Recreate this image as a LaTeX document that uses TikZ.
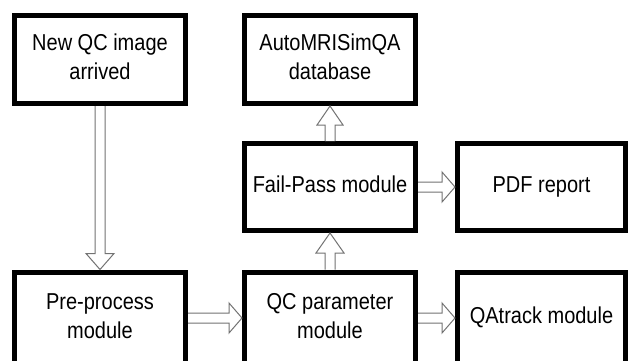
\documentclass[tikz,border=0pt]{standalone}
\usepackage{fontspec}
\usepackage{graphicx}
\setmainfont{Liberation Sans}
\usetikzlibrary{calc}
\newcommand\boxtext[1]{\scalebox{1}[1.15]{\begin{tabular}{@{}c@{}}#1\end{tabular}}}
\tikzset{
  sw/.store in=\bsw, hw/.store in=\bhw, hl/.store in=\bhl,
  sw=5pt, hw=14pt, hl=16pt,
  box/.style={draw=black, line width=5pt, fill=white, minimum width=171pt,
    minimum height=88pt, inner sep=0pt, align=center,
    font=\fontsize{20}{25}\selectfont, text=black},
  barrow/.style={draw=black!55, line width=1pt, fill=white, line join=miter,
    to path={
      ($(\tikztostart)!\bsw!90:(\tikztotarget)$)
      -- ($(\tikztotarget)!\bhl!(\tikztostart)!\bsw!90:(\tikztotarget)$)
      -- ($(\tikztotarget)!\bhl!(\tikztostart)!\bhw!90:(\tikztotarget)$)
      -- (\tikztotarget)
      -- ($(\tikztotarget)!\bhl!(\tikztostart)!\bhw!-90:(\tikztotarget)$)
      -- ($(\tikztotarget)!\bhl!(\tikztostart)!\bsw!-90:(\tikztotarget)$)
      -- ($(\tikztostart)!\bsw!-90:(\tikztotarget)$)
    }}
}
\begin{document}
\begin{tikzpicture}[x=1pt,y=-1pt]
  \useasboundingbox (0,0) rectangle (629,360);
  \clip (0,0) rectangle (629,360);
  \fill[white] (0,0) rectangle (629,360);
  \node[box] (new) at (100,59.5) {\boxtext{New QC image\\arrived}};
  \node[box] (db) at (330,59.5) {\boxtext{AutoMRISimQA\\database}};
  \node[box, minimum height=87pt] (fp) at (330,187) {\boxtext{Fail-Pass module}};
  \node[box, minimum height=87pt, minimum width=168pt] (pdf) at (541.5,187) {\boxtext{PDF report}};
  \node[box, minimum height=92pt] (pre) at (100,318) {\boxtext{Pre-process\\module}};
  \node[box, minimum height=92pt] (qc) at (330,318) {\boxtext{QC parameter\\module}};
  \node[box, minimum height=92pt, minimum width=168pt] (qa) at (541.5,318) {\boxtext{QAtrack module}};
  \draw[barrow] (new.south) to (pre.north);
  \draw[barrow, hl=13pt, hw=15pt] (pre.east) to (qc.west);
  \draw[barrow, hl=13pt, hw=15pt] (qc.east) to (qa.west);
  \draw[barrow, hl=13pt, hw=15pt] (fp.east) to (pdf.west);
  \draw[barrow, hl=20pt] (qc.north) to (fp.south);
  \draw[barrow, hl=19pt, hw=13pt] (fp.north) to (db.south);
\end{tikzpicture}
\end{document}
